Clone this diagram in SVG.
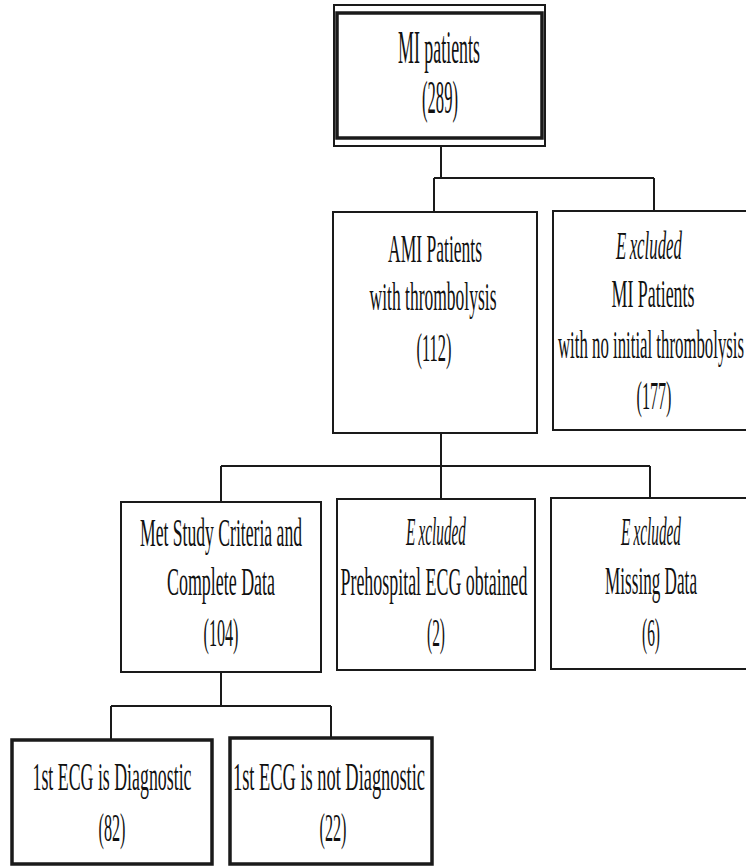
<svg xmlns="http://www.w3.org/2000/svg" width="746" height="867" viewBox="0 0 746 867">
<style>
.bx{fill:#fff;stroke:#1a1a1a;stroke-width:2}
.bt{fill:#fff;stroke:#1a1a1a;stroke-width:3.5}
.t{font-family:"Liberation Serif","DejaVu Serif",serif;font-size:40px;fill:#111;text-anchor:middle}
.tl{font-family:"Liberation Serif","DejaVu Serif",serif;font-size:46px;fill:#111;text-anchor:middle}
.it{font-style:italic}
.cn{fill:none;stroke:#1a1a1a;stroke-width:2}
</style>
<rect width="746" height="867" fill="#fff"/>
<g id="connectors">
<path class="cn" d="M441,146V178M434,178H654M434,178V212M654,178V211"/>
<path class="cn" d="M441,433V499M221,466H650M221,466V502M650,466V498"/>
<path class="cn" d="M221,672V706M111,706H331M111,706V740M331,706V738"/>
</g>
<g id="n_mi">
<rect class="bx" x="334" y="5" width="211" height="141"/>
<rect class="bt" x="337" y="13" width="205" height="125"/>
<text class="tl" x="439" y="63" textLength="82" lengthAdjust="spacingAndGlyphs">MI patients</text>
<text class="tl" x="440" y="113" textLength="36" lengthAdjust="spacingAndGlyphs">(289)</text>
</g>
<g id="n_ami">
<rect class="bx" x="333" y="212" width="204" height="221"/>
<text class="t" x="435" y="262" textLength="94" lengthAdjust="spacingAndGlyphs">AMI Patients</text>
<text class="t" x="433" y="310" textLength="127" lengthAdjust="spacingAndGlyphs">with thrombolysis</text>
<text class="t" x="434" y="361" textLength="35" lengthAdjust="spacingAndGlyphs">(112)</text>
</g>
<g id="n_excl_thromb">
<rect class="bx" x="553" y="211" width="210" height="219"/>
<text class="t it" x="649" y="259" textLength="66" lengthAdjust="spacingAndGlyphs">E<tspan dx="8">xcluded</tspan></text>
<text class="t" x="653" y="307" textLength="83" lengthAdjust="spacingAndGlyphs">MI Patients</text>
<text class="t" x="558" y="358" style="text-anchor:start" textLength="186" lengthAdjust="spacingAndGlyphs">with no initial thrombolysis</text>
<text class="t" x="654" y="409" textLength="35" lengthAdjust="spacingAndGlyphs">(177)</text>
</g>
<g id="n_met">
<rect class="bx" x="121" y="502" width="200" height="170"/>
<text class="t" x="221" y="546" textLength="162" lengthAdjust="spacingAndGlyphs">Met Study Criteria and</text>
<text class="t" x="221" y="595" textLength="108" lengthAdjust="spacingAndGlyphs">Complete Data</text>
<text class="t" x="221" y="646" textLength="35" lengthAdjust="spacingAndGlyphs">(104)</text>
</g>
<g id="n_prehosp">
<rect class="bx" x="337" y="499" width="198" height="171"/>
<text class="t it" x="436" y="545" textLength="60" lengthAdjust="spacingAndGlyphs">E<tspan dx="8">xcluded</tspan></text>
<text class="t" x="434" y="595" textLength="187" lengthAdjust="spacingAndGlyphs">Prehospital ECG obtained</text>
<text class="t" x="436" y="646" textLength="18" lengthAdjust="spacingAndGlyphs">(2)</text>
</g>
<g id="n_missing">
<rect class="bx" x="551" y="498" width="210" height="171"/>
<text class="t it" x="651" y="545" textLength="60" lengthAdjust="spacingAndGlyphs">E<tspan dx="8">xcluded</tspan></text>
<text class="t" x="651" y="594" textLength="92" lengthAdjust="spacingAndGlyphs">Missing Data</text>
<text class="t" x="651" y="646" textLength="18" lengthAdjust="spacingAndGlyphs">(6)</text>
</g>
<g id="n_diag">
<rect class="bt" x="12" y="740" width="200" height="124"/>
<text class="t" x="112" y="790" textLength="159" lengthAdjust="spacingAndGlyphs">1st ECG is Diagnostic</text>
<text class="t" x="112" y="841" textLength="27" lengthAdjust="spacingAndGlyphs">(82)</text>
</g>
<g id="n_notdiag">
<rect class="bt" x="230" y="738" width="202" height="126"/>
<text class="t" x="329" y="790" textLength="192" lengthAdjust="spacingAndGlyphs">1st ECG is not Diagnostic</text>
<text class="t" x="333" y="841" textLength="27" lengthAdjust="spacingAndGlyphs">(22)</text>
</g>
</svg>
